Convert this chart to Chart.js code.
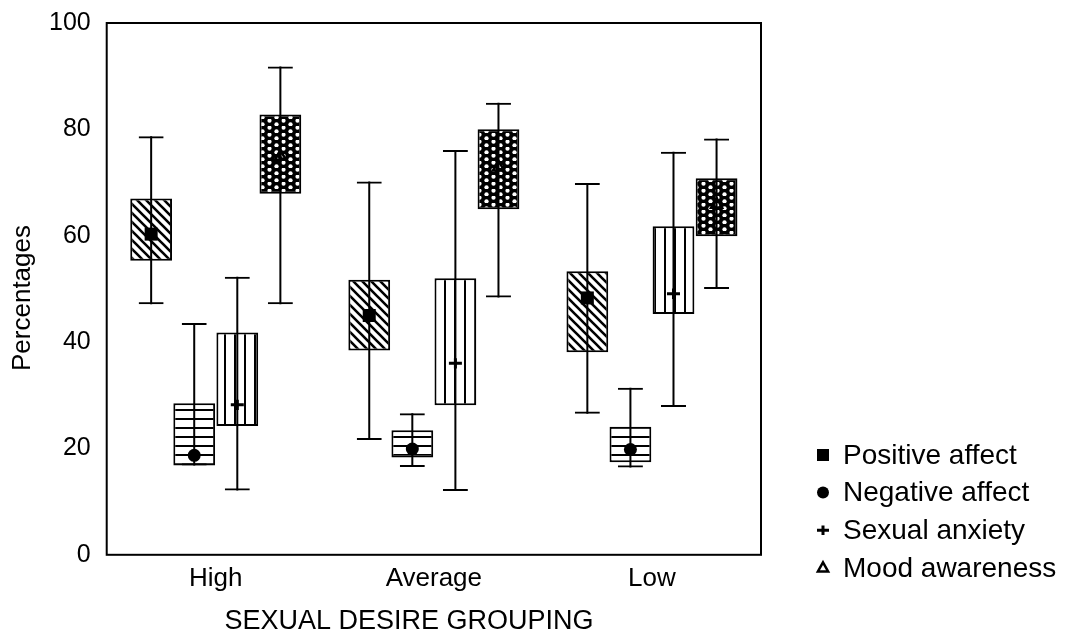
<!DOCTYPE html>
<html>
<head>
<meta charset="utf-8">
<title>Sexual desire grouping</title>
<script src="https://cdn.jsdelivr.net/npm/chart.js@4.4.1/dist/chart.umd.min.js"></script>
<style>
  html, body { margin: 0; padding: 0; background: #fff; }
</style>
</head>
<body>
<canvas id="grafico" width="1069" height="636"></canvas>
<script>
// categorias e valores
var groups = ['High', 'Average', 'Low'];
var yTicks = [0, 20, 40, 60, 80, 100];

// Positive affect
var posMin = [47.1, 21.6, 26.5];
var posQ1  = [55.3, 38.4, 38.1];
var posMed = [60.3, 45.0, 48.3];
var posQ3  = [67.0, 51.7, 53.3];
var posMax = [78.7, 70.2, 69.9];

// Negative affect
var negMin = [16.8, 16.5, 16.4];
var negQ1  = [16.8, 18.3, 17.4];
var negMed = [18.7, 19.9, 19.8];
var negQ3  = [28.5, 23.4, 24.1];
var negMax = [43.6, 26.6, 31.4];

// Sexual anxiety
var anxMin = [12.1, 12.0, 27.8];
var anxQ1  = [24.2, 28.1, 45.3];
var anxMed = [28.2, 36.0, 49.1];
var anxQ3  = [41.8, 52.0, 61.8];
var anxMax = [52.3, 76.1, 75.8];

// Mood awareness
var moodMin = [47.1, 48.4, 50.0];
var moodQ1  = [67.9, 65.0, 59.9];
var moodMed = [75.0, 73.0, 66.0];
var moodQ3  = [82.8, 80.0, 70.8];
var moodMax = [91.8, 85.0, 78.3];

var FONT = '"Liberation Sans", Arial, Helvetica, sans-serif';

// padrões de preenchimento das caixas
function makePattern(kind) {
    var c = document.createElement('canvas');
    var g = c.getContext('2d');
    if (kind === 'diag') {
        c.width = 9; c.height = 9;
        g.fillStyle = '#fff'; g.fillRect(0, 0, 9, 9);
        g.strokeStyle = '#000'; g.lineWidth = 2.6;
        g.beginPath();
        g.moveTo(-2, -2); g.lineTo(11, 11);
        g.moveTo(7, -2); g.lineTo(11, 2);
        g.moveTo(-2, 7); g.lineTo(2, 11);
        g.stroke();
    } else if (kind === 'horiz') {
        c.width = 9; c.height = 9;
        g.fillStyle = '#fff'; g.fillRect(0, 0, 9, 9);
        g.fillStyle = '#000'; g.fillRect(0, 4, 9, 2);
    } else if (kind === 'vert') {
        c.width = 10; c.height = 10;
        g.fillStyle = '#fff'; g.fillRect(0, 0, 10, 10);
        g.fillStyle = '#000'; g.fillRect(4, 0, 2, 10);
    } else {
        c.width = 14; c.height = 7;
        g.fillStyle = '#000'; g.fillRect(0, 0, 14, 7);
        g.fillStyle = '#fff';
        g.beginPath(); g.arc(3.5, 1.75, 2.1, 0, Math.PI * 2); g.fill();
        g.beginPath(); g.arc(10.5, 5.25, 2.1, 0, Math.PI * 2); g.fill();
    }
    return g.createPattern(c, 'repeat');
}

var series = [
    {label: 'Positive affect', min: posMin, q1: posQ1, med: posMed, q3: posQ3, max: posMax, fill: makePattern('diag'),  marker: 'rect'},
    {label: 'Negative affect', min: negMin, q1: negQ1, med: negMed, q3: negQ3, max: negMax, fill: makePattern('horiz'), marker: 'circle'},
    {label: 'Sexual anxiety',  min: anxMin, q1: anxQ1, med: anxMed, q3: anxQ3, max: anxMax, fill: makePattern('vert'),  marker: 'cross'},
    {label: 'Mood awareness',  min: moodMin, q1: moodQ1, med: moodMed, q3: moodQ3, max: moodMax, fill: makePattern('cross'), marker: 'triangle'}
];

function pairs(a, b) {
    return a.map(function (v, i) { return [v, b[i]]; });
}

// hastes (ordem 0, ficam por cima), barras das extremidades (ordem 1), caixas (ordem 2)
var datasets = [];
series.forEach(function (s, k) {
    datasets.push({
        label: s.label + ' range', stack: 's' + k, order: 0,
        data: pairs(s.min, s.max),
        backgroundColor: '#000', borderWidth: 0, maxBarThickness: 2
    });
});
series.forEach(function (s, k) {
    datasets.push({
        label: s.label + ' caps', stack: 's' + k, order: 1,
        data: pairs(s.min, s.max),
        backgroundColor: 'rgba(0,0,0,0)', borderColor: '#000',
        borderWidth: {top: 2, bottom: 2, left: 0, right: 0}, maxBarThickness: 25
    });
});
var boxStart = datasets.length;
series.forEach(function (s, k) {
    datasets.push({
        label: s.label, stack: 's' + k, order: 2,
        data: pairs(s.q1, s.q3),
        backgroundColor: s.fill, borderColor: '#000', borderWidth: 2
    });
});

function drawMarker(ctx, style, x, y, r) {
    ctx.beginPath();
    if (style === 'rect') {
        ctx.rect(x - r, y - r, 2 * r, 2 * r);
        ctx.fill();
    } else if (style === 'circle') {
        ctx.arc(x, y, r, 0, Math.PI * 2);
        ctx.fill();
    } else if (style === 'cross') {
        ctx.lineWidth = 3;
        ctx.moveTo(x - r, y); ctx.lineTo(x + r, y);
        ctx.moveTo(x, y - r * 0.8); ctx.lineTo(x, y + r * 0.8);
        ctx.stroke();
    } else {
        ctx.lineWidth = 2.5;
        ctx.moveTo(x, y - r * 0.9);
        ctx.lineTo(x + r * 0.85, y + r * 0.6);
        ctx.lineTo(x - r * 0.85, y + r * 0.6);
        ctx.closePath();
        ctx.stroke();
    }
}

// moldura, medianas, legenda e títulos dos eixos
var extras = {
    id: 'extras',
    afterDatasetsDraw: function (chart) {
        var ctx = chart.ctx, yScale = chart.scales.y;
        ctx.save();
        ctx.fillStyle = '#000'; ctx.strokeStyle = '#000';
        series.forEach(function (s, k) {
            chart.getDatasetMeta(boxStart + k).data.forEach(function (bar, i) {
                drawMarker(ctx, s.marker, bar.x, yScale.getPixelForValue(s.med[i]), 6.5);
            });
        });
        ctx.restore();
    },
    afterDraw: function (chart) {
        var ctx = chart.ctx, a = chart.chartArea;
        ctx.save();
        ctx.strokeStyle = '#000'; ctx.fillStyle = '#000'; ctx.lineWidth = 2;
        ctx.strokeRect(a.left, a.top, a.right - a.left, a.bottom - a.top);

        ctx.font = '28px ' + FONT;
        ctx.textAlign = 'left'; ctx.textBaseline = 'middle';
        series.forEach(function (s, k) {
            var yy = 455 + k * 37.6;
            drawMarker(ctx, s.marker, 823, yy, 6);
            ctx.fillText(s.label, 843, yy + 1);
        });

        ctx.textAlign = 'center';
        ctx.font = '27px ' + FONT;
        ctx.fillText('SEXUAL DESIRE GROUPING', 409, 622);

        ctx.translate(23, 298);
        ctx.rotate(-Math.PI / 2);
        ctx.font = '26px ' + FONT;
        ctx.fillText('Percentages', 0, 0);
        ctx.restore();
    }
};

var ctx = document.querySelector('#grafico');
var boxChart = new Chart(ctx, {
    type: 'bar',
    data: {labels: groups, datasets: datasets},
    options: {
        responsive: false,
        animation: false,
        devicePixelRatio: 1,
        layout: {padding: {left: 41, right: 308, top: 14, bottom: 42}},
        datasets: {
            bar: {categoryPercentage: 0.79, barPercentage: 0.97, borderSkipped: false}
        },
        plugins: {
            legend: {display: false},
            tooltip: {enabled: false}
        },
        scales: {
            x: {
                grid: {display: false},
                border: {display: false},
                ticks: {color: '#000', font: {family: FONT, size: 26}, padding: 0}
            },
            y: {
                stacked: false,
                min: 0,
                max: 100,
                afterBuildTicks: function (axis) {
                    axis.ticks = yTicks.map(function (v) { return {value: v}; });
                },
                grid: {display: false},
                border: {display: false},
                ticks: {color: '#000', font: {family: FONT, size: 25}, padding: 8}
            }
        }
    },
    plugins: [extras]
});
</script>
</body>
</html>
